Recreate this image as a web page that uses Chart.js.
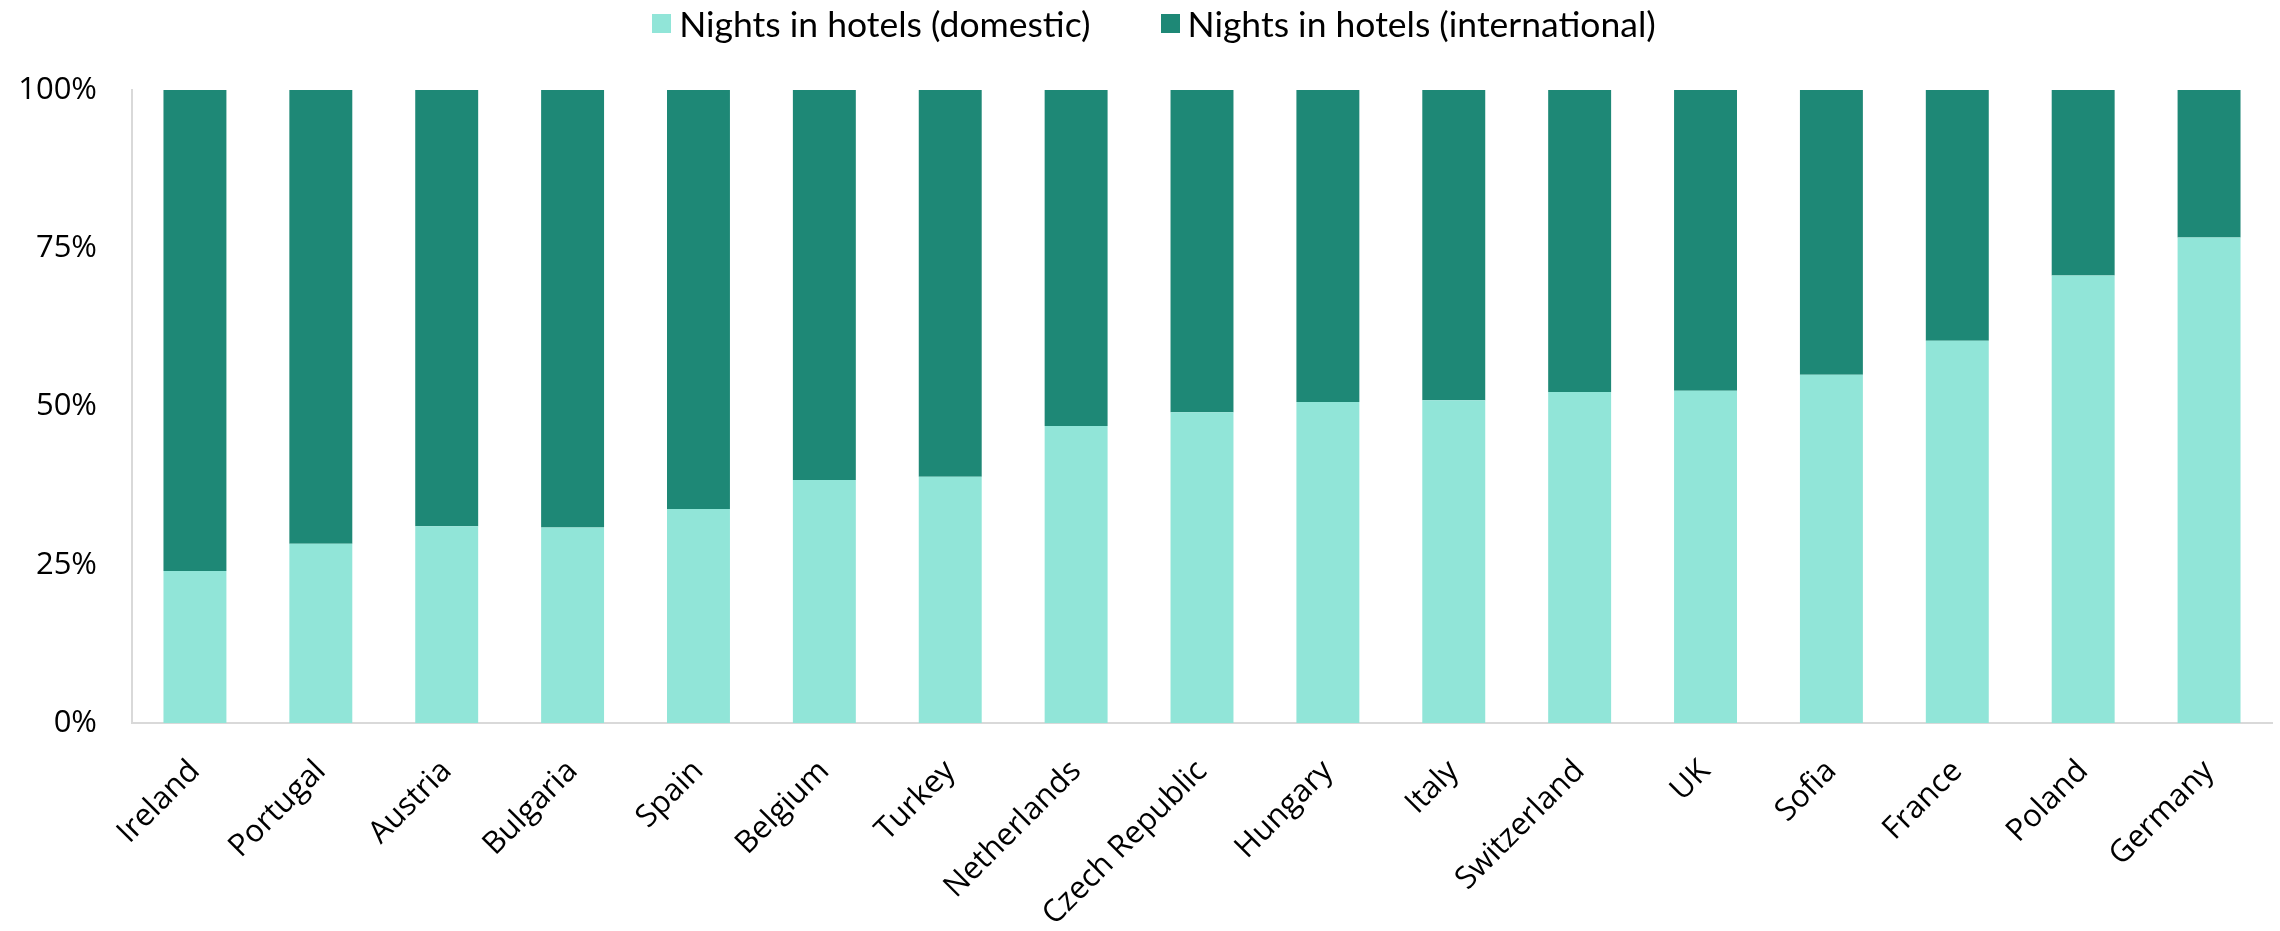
<!DOCTYPE html>
<html>
<head>
<meta charset="utf-8">
<script src="https://cdn.jsdelivr.net/npm/chart.js@4"></script>
<style>
  html, body { margin: 0; padding: 0; background: #fff; }
  #wrap { position: relative; width: 2280px; height: 931px; }
  #legend {
    position: absolute; top: 0; left: 28px; width: 2252px; height: 46px;
    display: flex; justify-content: center; align-items: center;
    font-family: Lato, sans-serif; font-size: 35.5px; color: #000;
  }
  .item { display: flex; align-items: center; margin: 0 35px; }
  .box { width: 19px; height: 19px; margin-right: 8px; }
</style>
</head>
<body>
<div id="wrap">
  <div id="legend"></div>
  <canvas id="chart" width="2280" height="931"></canvas>
</div>
<script>
// share of hotel nights, %
const countries = [
  "Ireland", "Portugal", "Austria", "Bulgaria", "Spain", "Belgium", "Turkey",
  "Netherlands", "Czech Republic", "Hungary", "Italy", "Switzerland", "UK",
  "Sofia", "France", "Poland", "Germany"
];
const domestic = [24.0, 28.3, 31.1, 30.9, 33.8, 38.4, 38.9, 46.9, 49.1, 50.7, 51.0, 52.3, 52.5, 55.0, 60.4, 70.7, 76.7];
const international = [76.0, 71.7, 68.9, 69.1, 66.2, 61.6, 61.1, 53.1, 50.9, 49.3, 49.0, 47.7, 47.5, 45.0, 39.6, 29.3, 23.3];
const seriesNames = ["Nights in hotels (domestic)", "Nights in hotels (international)"];
const seriesColors = ["#91E5D8", "#1E8876"];
const yTicks = [0, 25, 50, 75, 100];

// legend above the plot
const legendEl = document.getElementById("legend");
seriesNames.forEach((name, i) => {
  const item = document.createElement("div");
  item.className = "item";
  item.innerHTML = '<span class="box" style="background:' + seriesColors[i] + '"></span><span>' + name + '</span>';
  legendEl.appendChild(item);
});

const tickFont = { family: "'Open Sans', sans-serif", size: 31 };

new Chart(document.getElementById("chart"), {
  type: "bar",
  data: {
    labels: countries,
    datasets: [
      { label: seriesNames[0], data: domestic, backgroundColor: seriesColors[0] },
      { label: seriesNames[1], data: international, backgroundColor: seriesColors[1] }
    ]
  },
  options: {
    responsive: false,
    animation: false,
    layout: { padding: { top: 90, right: 8, left: 0, bottom: 0 } },
    datasets: { bar: { barPercentage: 0.5, categoryPercentage: 1 } },
    plugins: {
      legend: { display: false },
      tooltip: { enabled: false }
    },
    scales: {
      x: {
        stacked: true,
        grid: { display: false, drawTicks: false },
        border: { color: "#D9D9D9", width: 2 },
        ticks: {
          color: "#000",
          font: tickFont,
          minRotation: 45,
          maxRotation: 45,
          autoSkip: false,
          padding: 30
        },
        afterFit: s => { s.height = 208; }
      },
      y: {
        stacked: true,
        min: 0,
        max: 100,
        afterBuildTicks: s => { s.ticks = yTicks.map(v => ({ value: v })); },
        grid: { display: false, drawTicks: false },
        border: { color: "#D9D9D9", width: 2 },
        ticks: {
          color: "#000",
          font: tickFont,
          padding: 35,
          callback: v => v + "%"
        },
        afterFit: s => { s.width = 132; }
      }
    }
  }
});
</script>
</body>
</html>
